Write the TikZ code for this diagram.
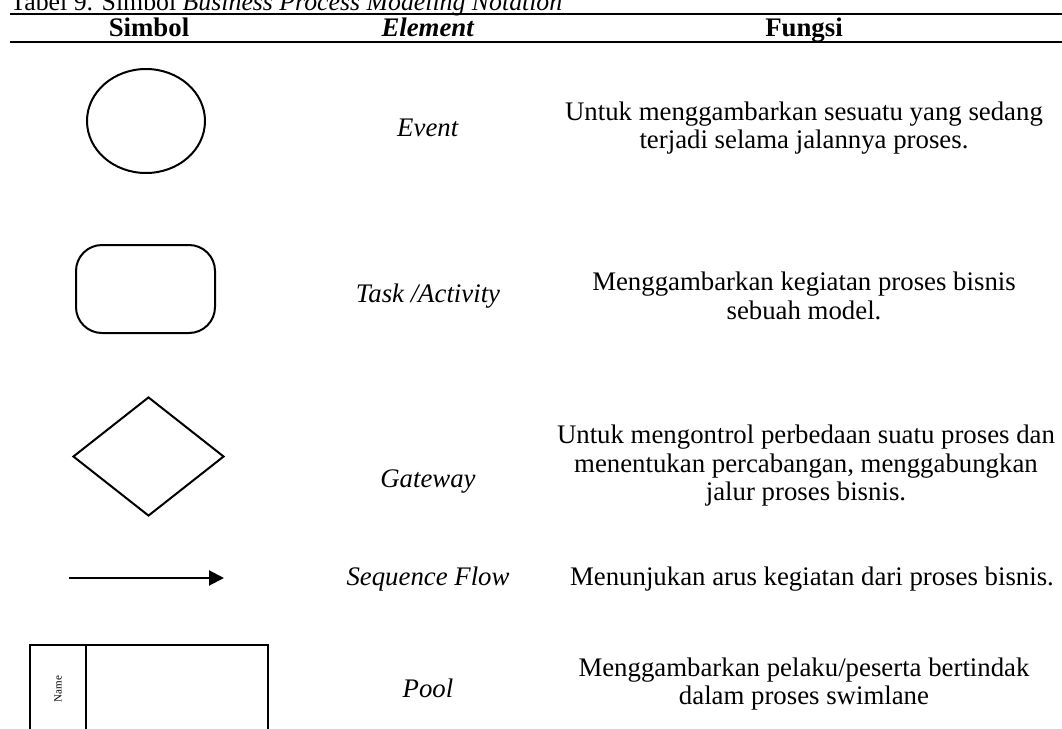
\documentclass[tikz,border=0pt]{standalone}
\usepackage{fontspec}
\setmainfont{Liberation Serif}
\usetikzlibrary{shapes.geometric,arrows.meta}
\begin{document}
\begin{tikzpicture}[x=0.5pt, y=-0.5pt,
    sym/.style={draw, line width=1pt, inner sep=0pt},
    txt/.style={align=center, font=\fontsize{13.4}{14.25}\selectfont},
    hdr/.style={anchor=base, inner sep=0pt, font=\fontsize{13.4}{14.25}\selectfont\bfseries},
    rule/.style={line width=1pt}]
    \useasboundingbox (0,0) rectangle (1062,729);
    \node[anchor=base west, inner sep=0pt, font=\fontsize{12.9}{14.25}\selectfont] (title) at (10,10)
        {Tabel 9. Simbol \textit{Business Process Modeling Notation}};
    \coordinate (topl) at (10,14);
    \coordinate (topr) at (1062,14);
    \coordinate (midl) at (10,42);
    \coordinate (midr) at (1062,42);
    \draw[rule] (topl) -- (topr);
    \draw[rule] (midl) -- (midr);
    \node[hdr] (hsimbol) at (149,36) {Simbol};
    \node[hdr] (helement) at (428,36) {\textit{Element}};
    \node[hdr] (hfungsi) at (804,36) {Fungsi};

    \node[sym, ellipse, minimum width=59pt, minimum height=52pt] (event) at (146,121) {};
    \node[txt] (eventel) at (428,128) {\textit{Event}};
    \node[txt] (eventfn) at (804,128) {Untuk menggambarkan sesuatu yang sedang\\terjadi selama jalannya proses.};

    \node[sym, rectangle, rounded corners=13pt, minimum width=69.5pt, minimum height=44pt] (task) at (145.5,289) {};
    \node[txt] (taskel) at (428,296) {\textit{Task /Activity}};
    \node[txt] (taskfn) at (804,296) {Menggambarkan kegiatan proses bisnis\\sebuah model.};

    \node[sym, diamond, minimum width=75.5pt, minimum height=59.5pt] (gate) at (148.5,456.5) {};
    \node[txt] (gateel) at (428,482) {\textit{Gateway}};
    \node[txt] (gatefn) at (806,466) {Untuk mengontrol perbedaan suatu proses dan\\menentukan percabangan, menggabungkan\\jalur proses bisnis.};

    \coordinate (seqa) at (69,578);
    \coordinate (seqb) at (224,578);
    \draw[line width=1pt, -{Triangle[length=7.5pt, width=7.5pt]}] (seqa) -- (seqb);
    \node[txt] (seqel) at (428,579) {\textit{Sequence Flow}};
    \node[txt] (seqfn) at (812,579) {Menunjukan arus kegiatan dari proses bisnis.};

    \node[sym, rectangle, minimum width=119pt, minimum height=57.5pt] (pool) at (149,702.5) {};
    \node[sym, rectangle, minimum width=28pt, minimum height=57.5pt] (poollane) at (58,702.5) {};
    \node[rotate=90, inner sep=0pt, font=\fontsize{5.5}{6}\selectfont] (poolname) at (58,689) {Name};
    \node[txt] (poolel) at (428,688) {\textit{Pool}};
    \node[txt] (poolfn) at (804,684) {Menggambarkan pelaku/peserta bertindak\\dalam proses swimlane};
\end{tikzpicture}
\end{document}
